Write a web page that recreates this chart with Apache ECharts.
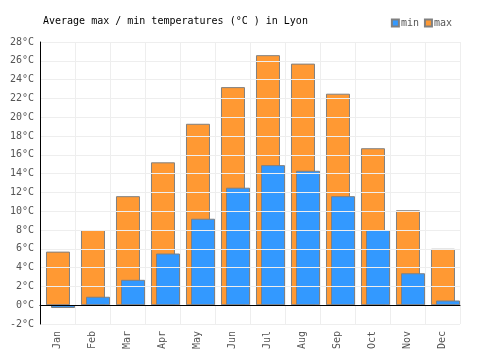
<!DOCTYPE html>
<html>
<head>
<meta charset="utf-8">
<script src="https://cdn.jsdelivr.net/npm/echarts@6/dist/echarts.min.js"></script>
<style>
html, body { margin: 0; padding: 0; background: #fff; }
#chart { width: 500px; height: 350px; }
</style>
</head>
<body>
<div id="chart"></div>
<script>
var months = ['Jan', 'Feb', 'Mar', 'Apr', 'May', 'Jun', 'Jul', 'Aug', 'Sep', 'Oct', 'Nov', 'Dec'];
var minTemps = [-0.3, 0.9, 2.7, 5.5, 9.2, 12.5, 14.9, 14.3, 11.6, 8.0, 3.4, 0.5];
var maxTemps = [5.7, 8.0, 11.6, 15.2, 19.3, 23.2, 26.6, 25.7, 22.5, 16.7, 10.1, 6.0];
var yMin = -2, yMax = 28, yStep = 2;

var font = 'DejaVu Sans Mono';
var chart = echarts.init(document.getElementById('chart'));

chart.setOption({
	animation: false,
	textStyle: { fontFamily: font },
	title: {
		text: 'Average max / min temperatures (°C ) in Lyon',
		left: 38,
		top: 11,
		textStyle: { fontFamily: font, fontSize: 10, fontWeight: 'normal', color: '#000' }
	},
	legend: {
		data: ['min', 'max'],
		right: 43,
		top: 13,
		itemWidth: 7,
		itemHeight: 7,
		itemGap: 5,
		icon: 'rect',
		textStyle: { fontFamily: font, fontSize: 10, color: '#555', padding: [0, 0, 0, -3] }
	},
	grid: [
		{ left: 40, right: 40, top: 42, bottom: 26, outerBoundsMode: 'none' },
		// bars sit a little right of the category centre in the original
		{ left: 43, right: 37, top: 42, bottom: 26, outerBoundsMode: 'none' }
	],
	xAxis: [
		{
			type: 'category',
			gridIndex: 0,
			data: months,
			z: 5,
			axisLine: { onZero: true, lineStyle: { color: '#000', width: 1 } },
			axisTick: { show: false },
			axisLabel: {
				rotate: 90,
				interval: 0,
				margin: 7,
				fontFamily: font,
				fontSize: 10,
				color: '#555'
			},
			splitLine: { show: true, interval: 0, lineStyle: { color: '#eeeeee' } }
		},
		{ type: 'category', gridIndex: 1, data: months, show: false }
	],
	yAxis: [
		{
			type: 'value',
			gridIndex: 0,
			min: yMin,
			max: yMax,
			interval: yStep,
			z: 5,
			axisLine: { show: true, lineStyle: { color: '#000', width: 1 } },
			axisTick: { show: false },
			axisLabel: {
				formatter: '{value}°C',
				fontFamily: font,
				fontSize: 10,
				color: '#555',
				margin: 6
			},
			splitLine: { show: true, lineStyle: { color: '#eeeeee' } }
		},
		{ type: 'value', gridIndex: 1, min: yMin, max: yMax, interval: yStep, show: false }
	],
	series: [
		{
			name: 'max',
			type: 'bar',
			xAxisIndex: 1,
			yAxisIndex: 1,
			data: maxTemps,
			barWidth: 24,
			barGap: '-79%',
			itemStyle: { color: '#ff9933', borderColor: '#808080', borderWidth: 1 }
		},
		{
			name: 'min',
			type: 'bar',
			xAxisIndex: 1,
			yAxisIndex: 1,
			data: minTemps,
			barWidth: 24,
			itemStyle: { color: '#3399ff', borderColor: '#808080', borderWidth: 1 }
		}
	]
});
</script>
</body>
</html>
